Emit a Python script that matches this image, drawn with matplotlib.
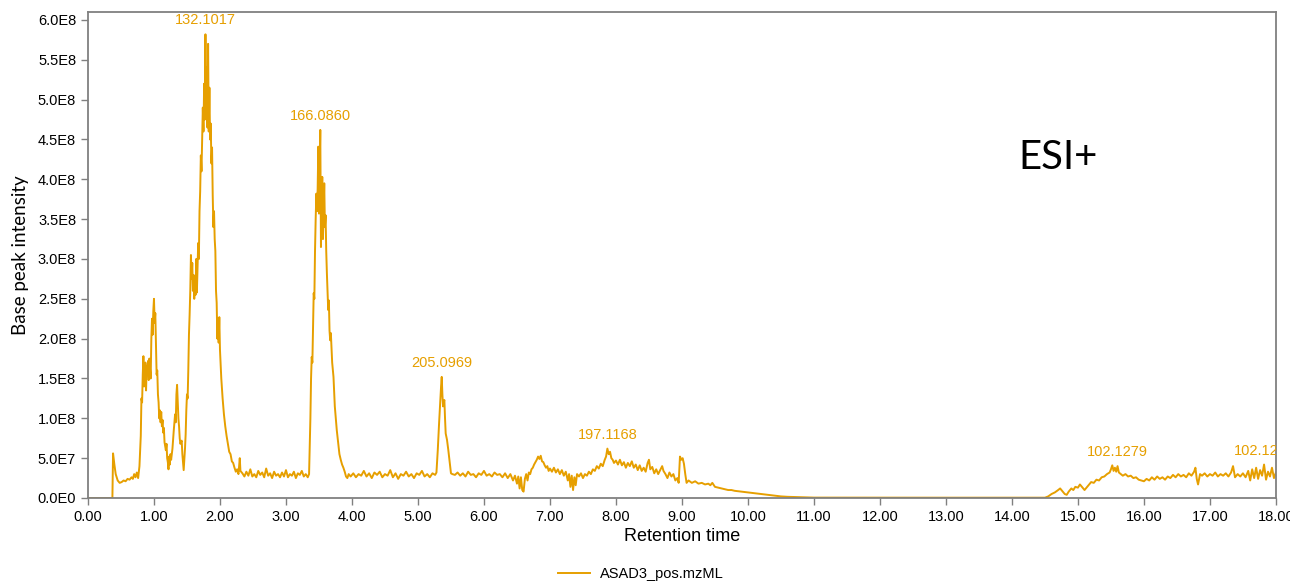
import numpy as np
import matplotlib.pyplot as plt
from matplotlib.ticker import FuncFormatter, MultipleLocator

# Data: retention time (min) and base peak intensity (x 1e8)
rt = [0.00, 0.36, 0.37, 0.38, 0.40, 0.42, 0.45, 0.48, 0.51, 0.54, 0.57, 0.60, 0.63, 0.66, 0.68,
      0.70, 0.72, 0.74, 0.76, 0.78, 0.80, 0.81, 0.82, 0.83, 0.84, 0.85, 0.86, 0.87, 0.88, 0.89,
      0.90, 0.91, 0.92, 0.93, 0.95, 0.96, 0.97, 0.98, 0.99, 1.00, 1.01, 1.02, 1.03, 1.04, 1.05,
      1.06, 1.07, 1.08, 1.09, 1.10, 1.11, 1.12, 1.13, 1.14, 1.15, 1.16, 1.18, 1.19, 1.20, 1.21,
      1.22, 1.23, 1.24, 1.25, 1.26, 1.28, 1.30, 1.32, 1.33, 1.34, 1.35, 1.36, 1.37, 1.38, 1.39,
      1.40, 1.42, 1.43, 1.45, 1.46, 1.47, 1.48, 1.49, 1.50, 1.51, 1.52, 1.53, 1.54, 1.55, 1.56,
      1.57, 1.58, 1.59, 1.60, 1.61, 1.62, 1.63, 1.64, 1.65, 1.66, 1.67, 1.68, 1.69, 1.70, 1.71,
      1.72, 1.73, 1.74, 1.75, 1.76, 1.77, 1.78, 1.79, 1.80, 1.81, 1.82, 1.83, 1.84, 1.85, 1.86,
      1.87, 1.88, 1.89, 1.90, 1.91, 1.92, 1.93, 1.94, 1.95, 1.96, 1.97, 1.98, 1.99, 2.00, 2.02,
      2.04, 2.06, 2.08, 2.10, 2.12, 2.14, 2.16, 2.18, 2.20, 2.22, 2.24, 2.26, 2.28, 2.30, 2.31,
      2.34, 2.37, 2.40, 2.43, 2.46, 2.49, 2.52, 2.55, 2.58, 2.61, 2.64, 2.67, 2.70, 2.73, 2.76,
      2.79, 2.82, 2.85, 2.88, 2.91, 2.94, 2.97, 3.00, 3.03, 3.06, 3.09, 3.12, 3.15, 3.18, 3.21,
      3.24, 3.27, 3.30, 3.33, 3.35, 3.37, 3.38, 3.39, 3.40, 3.41, 3.42, 3.43, 3.44, 3.45, 3.46,
      3.47, 3.48, 3.49, 3.50, 3.51, 3.52, 3.53, 3.54, 3.55, 3.56, 3.57, 3.58, 3.59, 3.60, 3.61,
      3.62, 3.63, 3.64, 3.65, 3.66, 3.67, 3.68, 3.70, 3.72, 3.74, 3.76, 3.77, 3.79, 3.81, 3.83,
      3.85, 3.87, 3.89, 3.91, 3.93, 3.95, 3.98, 4.02, 4.06, 4.10, 4.14, 4.18, 4.22, 4.26, 4.30,
      4.34, 4.38, 4.42, 4.46, 4.50, 4.54, 4.58, 4.62, 4.66, 4.70, 4.74, 4.78, 4.82, 4.86, 4.90,
      4.94, 4.98, 5.02, 5.06, 5.10, 5.14, 5.18, 5.22, 5.26, 5.28, 5.30, 5.32, 5.34, 5.35, 5.36,
      5.37, 5.38, 5.39, 5.40, 5.41, 5.42, 5.44, 5.46, 5.48, 5.50, 5.52, 5.56, 5.60, 5.64, 5.68,
      5.72, 5.76, 5.80, 5.84, 5.88, 5.92, 5.96, 6.00, 6.04, 6.08, 6.12, 6.16, 6.20, 6.24, 6.28,
      6.32, 6.36, 6.40, 6.44, 6.47, 6.50, 6.52, 6.54, 6.56, 6.58, 6.60, 6.62, 6.64, 6.66, 6.68,
      6.70, 6.72, 6.74, 6.76, 6.78, 6.80, 6.82, 6.84, 6.86, 6.88, 6.90, 6.92, 6.94, 6.96, 6.98,
      7.00, 7.03, 7.06, 7.09, 7.12, 7.15, 7.18, 7.21, 7.24, 7.27, 7.29, 7.31, 7.33, 7.35, 7.37,
      7.39, 7.41, 7.44, 7.47, 7.50, 7.53, 7.56, 7.59, 7.62, 7.65, 7.68, 7.71, 7.74, 7.77, 7.80,
      7.83, 7.85, 7.87, 7.89, 7.91, 7.93, 7.95, 7.97, 8.00, 8.03, 8.06, 8.09, 8.12, 8.15, 8.18,
      8.21, 8.24, 8.27, 8.30, 8.33, 8.36, 8.39, 8.42, 8.45, 8.48, 8.50, 8.52, 8.55, 8.58, 8.61,
      8.64, 8.67, 8.70, 8.72, 8.75, 8.78, 8.81, 8.84, 8.87, 8.90, 8.93, 8.95, 8.96, 8.97, 8.99,
      9.01, 9.03, 9.05, 9.07, 9.10, 9.15, 9.20, 9.25, 9.30, 9.35, 9.40, 9.43, 9.46, 9.50, 9.55,
      9.60, 9.65, 9.70, 9.75, 9.80, 9.90, 10.00, 10.10, 10.20, 10.30, 10.40, 10.50, 10.60, 10.80, 11.00,
      12.00, 13.00, 14.00, 14.50, 14.55, 14.60, 14.65, 14.70, 14.73, 14.76, 14.80, 14.83, 14.86, 14.90, 14.93,
      14.96, 15.00, 15.03, 15.06, 15.10, 15.13, 15.17, 15.20, 15.24, 15.28, 15.32, 15.36, 15.40, 15.44, 15.48,
      15.50, 15.52, 15.54, 15.56, 15.58, 15.60, 15.62, 15.65, 15.68, 15.72, 15.76, 15.80, 15.84, 15.88, 15.92,
      15.96, 16.00, 16.04, 16.08, 16.12, 16.16, 16.20, 16.24, 16.28, 16.32, 16.36, 16.40, 16.44, 16.48, 16.52,
      16.56, 16.60, 16.64, 16.68, 16.72, 16.76, 16.78, 16.80, 16.82, 16.85, 16.88, 16.92, 16.96, 17.00, 17.04,
      17.08, 17.12, 17.16, 17.20, 17.24, 17.28, 17.32, 17.35, 17.38, 17.42, 17.46, 17.50, 17.54, 17.58, 17.61,
      17.64, 17.67, 17.70, 17.73, 17.76, 17.79, 17.82, 17.85, 17.88, 17.91, 17.94, 17.97, 18.00]

intensity = [0.0, 0.0, 0.0, 0.56, 0.42, 0.30, 0.22, 0.19, 0.20, 0.22, 0.21, 0.24, 0.23, 0.26, 0.24,
             0.30, 0.26, 0.32, 0.25, 0.40, 0.78, 1.25, 1.20, 1.55, 1.78, 1.40, 1.62, 1.70, 1.35, 1.66,
             1.60, 1.72, 1.48, 1.75, 1.50, 2.00, 2.25, 2.05, 2.35, 2.50, 2.20, 2.32, 1.95, 1.55, 1.60,
             1.30, 1.20, 1.00, 1.10, 0.95, 1.08, 0.90, 0.98, 0.82, 0.88, 0.70, 0.60, 0.68, 0.50, 0.45,
             0.36, 0.52, 0.42, 0.55, 0.48, 0.62, 0.85, 1.05, 0.95, 1.30, 1.42, 1.20, 1.00, 0.90, 0.75,
             0.68, 0.72, 0.55, 0.35, 0.48, 0.62, 0.80, 1.10, 1.30, 1.25, 1.60, 2.05, 2.30, 2.60, 3.05,
             2.75, 2.95, 2.60, 2.80, 2.50, 2.65, 2.55, 3.00, 2.58, 2.90, 3.20, 3.00, 3.60, 3.85, 4.30,
             4.10, 4.50, 4.90, 4.60, 5.20, 4.75, 5.82, 4.80, 5.40, 4.65, 5.70, 4.60, 5.15, 4.50, 4.70,
             4.20, 4.40, 3.80, 3.40, 3.60, 3.25, 3.10, 2.60, 2.45, 2.00, 2.25, 1.95, 2.27, 1.86, 1.50,
             1.25, 1.05, 0.90, 0.78, 0.68, 0.58, 0.55, 0.46, 0.44, 0.38, 0.33, 0.36, 0.30, 0.50, 0.34,
             0.31, 0.27, 0.33, 0.28, 0.36, 0.27, 0.30, 0.26, 0.34, 0.29, 0.32, 0.26, 0.37, 0.28, 0.31,
             0.25, 0.33, 0.28, 0.30, 0.26, 0.32, 0.27, 0.35, 0.26, 0.30, 0.28, 0.33, 0.25, 0.31, 0.29,
             0.34, 0.27, 0.30, 0.26, 0.30, 1.00, 1.50, 1.77, 1.70, 2.15, 2.57, 2.50, 3.10, 3.50, 3.82,
             3.60, 3.88, 4.41, 3.57, 4.10, 4.62, 3.15, 3.70, 4.03, 3.25, 3.60, 3.95, 3.40, 3.55, 3.10,
             2.82, 2.60, 2.36, 2.48, 2.10, 1.98, 2.07, 1.70, 1.52, 1.15, 0.95, 0.85, 0.70, 0.55, 0.48,
             0.42, 0.38, 0.33, 0.27, 0.25, 0.30, 0.27, 0.31, 0.26, 0.30, 0.28, 0.34, 0.27, 0.31, 0.25,
             0.32, 0.29, 0.33, 0.26, 0.30, 0.28, 0.35, 0.26, 0.31, 0.24, 0.30, 0.28, 0.33, 0.27, 0.30,
             0.25, 0.31, 0.29, 0.34, 0.27, 0.30, 0.26, 0.31, 0.29, 0.32, 0.60, 0.94, 1.25, 1.40, 1.52,
             1.30, 1.15, 1.20, 1.23, 1.00, 0.81, 0.73, 0.60, 0.45, 0.31, 0.30, 0.29, 0.32, 0.28, 0.31,
             0.27, 0.33, 0.29, 0.30, 0.26, 0.31, 0.29, 0.34, 0.28, 0.30, 0.27, 0.32, 0.29, 0.30, 0.26,
             0.31, 0.25, 0.30, 0.22, 0.28, 0.18, 0.27, 0.12, 0.26, 0.10, 0.08, 0.24, 0.30, 0.22, 0.32,
             0.30, 0.36, 0.38, 0.42, 0.45, 0.48, 0.52, 0.49, 0.53, 0.46, 0.45, 0.41, 0.38, 0.40, 0.34,
             0.37, 0.33, 0.38, 0.32, 0.36, 0.30, 0.35, 0.28, 0.33, 0.22, 0.30, 0.14, 0.28, 0.10, 0.26,
             0.16, 0.30, 0.27, 0.31, 0.25, 0.30, 0.28, 0.33, 0.30, 0.36, 0.34, 0.40, 0.37, 0.43, 0.40,
             0.48, 0.52, 0.62, 0.55, 0.58, 0.50, 0.48, 0.44, 0.47, 0.42, 0.48, 0.41, 0.45, 0.38, 0.44,
             0.40, 0.46, 0.38, 0.42, 0.35, 0.41, 0.34, 0.38, 0.33, 0.44, 0.48, 0.36, 0.39, 0.31, 0.36,
             0.30, 0.35, 0.40, 0.34, 0.30, 0.25, 0.32, 0.27, 0.30, 0.22, 0.25, 0.19, 0.35, 0.52, 0.48,
             0.50, 0.43, 0.30, 0.19, 0.22, 0.19, 0.21, 0.18, 0.19, 0.17, 0.18, 0.16, 0.19, 0.14, 0.13,
             0.12, 0.11, 0.10, 0.10, 0.09, 0.08, 0.07, 0.06, 0.05, 0.04, 0.03, 0.02, 0.015, 0.01, 0.005,
             0.004, 0.004, 0.004, 0.004, 0.02, 0.05, 0.07, 0.10, 0.12, 0.09, 0.05, 0.04, 0.08, 0.12, 0.10,
             0.14, 0.13, 0.17, 0.14, 0.10, 0.13, 0.17, 0.20, 0.19, 0.23, 0.22, 0.26, 0.27, 0.30, 0.32,
             0.36, 0.41, 0.34, 0.38, 0.33, 0.40, 0.32, 0.30, 0.28, 0.30, 0.27, 0.28, 0.25, 0.26, 0.23,
             0.22, 0.21, 0.24, 0.22, 0.26, 0.23, 0.27, 0.24, 0.26, 0.23, 0.27, 0.25, 0.29, 0.26, 0.30,
             0.27, 0.29, 0.26, 0.31, 0.28, 0.33, 0.38, 0.24, 0.17, 0.30, 0.28, 0.31, 0.27, 0.30, 0.28,
             0.32, 0.27, 0.30, 0.28, 0.31, 0.27, 0.32, 0.40, 0.26, 0.30, 0.27, 0.31, 0.26, 0.34, 0.22,
             0.36, 0.25, 0.38, 0.24, 0.35, 0.28, 0.42, 0.23, 0.33, 0.27, 0.38, 0.25, 0.32]

# peak annotations (m/z of base peak)
peak_labels = ['132.1017', '166.0860', '205.0969', '197.1168', '102.1279', '102.1279']
peak_rt = [1.78, 3.52, 5.36, 7.87, 15.60, 17.82]
peak_int = [5.82, 4.62, 1.52, 0.62, 0.40, 0.42]

color = '#E69F00'
sans = ['Liberation Sans', 'DejaVu Sans']

fig = plt.figure(figsize=(12.9, 5.83), dpi=100)
ax = fig.add_axes([0.0682, 0.1458, 0.9209, 0.8336])

ax.plot(rt, np.array(intensity) * 1e8, color=color, lw=1.4, label='ASAD3_pos.mzML')

for lab, x, y in zip(peak_labels, peak_rt, peak_int):
    ax.annotate(lab, (x, y * 1e8), xytext=(0, 5), textcoords='offset points',
                ha='center', va='bottom', color=color, fontsize=10.5,
                family=sans, annotation_clip=False, clip_on=True)

ax.set_xlim(0, 18)
ax.set_ylim(0, 6.1e8)
ax.xaxis.set_major_locator(MultipleLocator(1))
ax.yaxis.set_major_locator(MultipleLocator(0.5e8))
ax.xaxis.set_major_formatter(FuncFormatter(lambda v, p: f'{v:.2f}'))


def sci(v, p):
    if v == 0:
        return '0.0E0'
    e = int(np.floor(np.log10(abs(v)) + 1e-9))
    return f'{v / 10**e:.1f}E{e}'


ax.yaxis.set_major_formatter(FuncFormatter(sci))

for s in ax.spines.values():
    s.set_color('#808080')
    s.set_linewidth(1.3)
ax.tick_params(direction='out', length=5, width=1, color='#808080', labelsize=10.5)
for t in ax.get_xticklabels() + ax.get_yticklabels():
    t.set_family(sans)

ax.set_xlabel('Retention time', fontsize=13, family=sans, labelpad=3)
ax.set_ylabel('Base peak intensity', fontsize=13.5, family=['Lato', 'DejaVu Sans'], labelpad=6)

ax.text(0.783, 0.70, 'ESI+', transform=ax.transAxes, fontsize=29,
        family=['Lato', 'DejaVu Sans'], ha='left', va='center')

fig.legend(loc='center', bbox_to_anchor=(0.497, 0.016), frameon=False,
           prop={'family': sans, 'size': 10.5}, handlelength=2.2, handletextpad=0.7)

plt.savefig('out.png', dpi=100)
